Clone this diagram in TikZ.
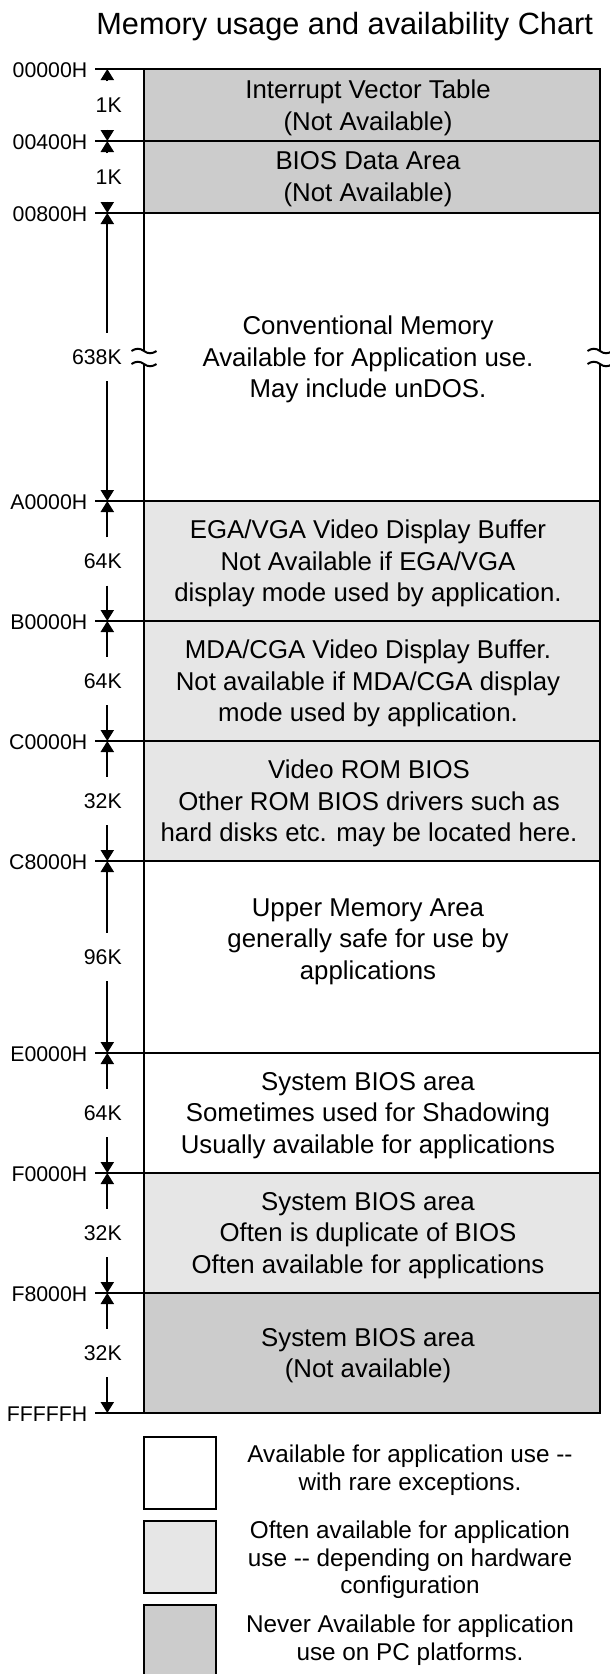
\documentclass[tikz,border=0pt]{standalone}
\usepackage{fontspec}
\setmainfont{Liberation Sans}
\usetikzlibrary{arrows.meta}
\definecolor{darkfill}{HTML}{CCCCCC}
\definecolor{lightfill}{HTML}{E6E6E6}
\tikzset{
  boxline/.style={line width=2.4pt, line cap=rect},
  vline/.style={line width=2.4pt},
  dimline/.style={line width=2pt, -{Triangle[length=11pt,width=13pt]}},
  breakmark/.style={line width=2pt},
  blocktext/.style={align=center, inner sep=0pt, font=\fontsize{25.8}{31.7}\selectfont},
  addrlab/.style={anchor=east, inner sep=0pt, font=\fontsize{21.3}{25}\selectfont},
  sizelab/.style={anchor=east, inner sep=0pt, minimum height=48pt, font=\fontsize{21.3}{25}\selectfont},
  legbox/.style={draw, line width=2.4pt, minimum width=72pt, minimum height=72pt, inner sep=0pt},
  legtext/.style={align=center, inner sep=0pt, font=\fontsize{24.3}{27.5}\selectfont},
  titletext/.style={anchor=base, inner sep=0pt, font=\fontsize{30.7}{36}\selectfont},
}
\begin{document}
\begin{tikzpicture}[x=1pt,y=-1pt]
\useasboundingbox (0,0) rectangle (610,1674);
\clip (0,0) rectangle (610,1674);
\fill[white] (0,0) rectangle (610,1674);

% title
\node[titletext] (title) at (344.7,34.5) {Memory usage and availability Chart};

% fills of the memory blocks
\fill[darkfill] (144,69) rectangle (600,213);
\fill[lightfill] (144,501) rectangle (600,861);
\fill[lightfill] (144,1173) rectangle (600,1293);
\fill[darkfill] (144,1293) rectangle (600,1413);

% boundary coordinates
\foreach \i/\y in {0/69,1/141,2/213,3/501,4/621,5/741,6/861,7/1053,8/1173,9/1293,10/1413} {
  \coordinate (L\i) at (96,\y);
  \coordinate (R\i) at (600,\y);
  \coordinate (A\i) at (107.3,\y);
}

% horizontal boundary lines
\foreach \i in {0,...,10} { \draw[boxline] (L\i) -- (R\i); }

% vertical box sides, broken in the conventional memory block
\draw[vline] (144,69) -- (144,351);
\draw[vline] (144,364) -- (144,1413);
\draw[vline] (600,69) -- (600,351);
\draw[vline] (600,364) -- (600,1413);
\foreach \bx in {144,600} {
  \foreach \by in {351,364} {
    \draw[breakmark] (\bx-12.5,\by) .. controls (\bx-8,\by-3) and (\bx-4,\by-3) .. (\bx,\by)
      .. controls (\bx+4,\by+3) and (\bx+8,\by+3) .. (\bx+12.5,\by);
  }
}

% block texts
\node[blocktext] (r1) at (368,107.5) {Interrupt Vector Table\\(Not Available)};
\node[blocktext] (r2) at (368,179) {BIOS Data Area\\(Not Available)};
\node[blocktext] (r3) at (368,359.5) {Conventional Memory\\Available for Application use.\\May include unDOS.};
\node[blocktext] (r4) at (368,563.5) {EGA/VGA Video Display Buffer\\Not Available if EGA/VGA\\display mode used by application.};
\node[blocktext] (r5) at (368,683.5) {MDA/CGA Video Display Buffer.\\Not available if MDA/CGA display\\mode used by application.};
\node[blocktext] (r6) at (369,803.5) {Video ROM BIOS\\Other ROM BIOS drivers such as\\hard disks etc. may be located here.};
\node[blocktext] (r7) at (368,941.5) {Upper Memory Area\\generally safe for use by\\applications};
\node[blocktext] (r8) at (368,1115.5) {System BIOS area\\Sometimes used for Shadowing\\Usually available for applications};
\node[blocktext] (r9) at (368,1235.5) {System BIOS area\\Often is duplicate of BIOS\\Often available for applications};
\node[blocktext] (r10) at (368,1355.5) {System BIOS area\\(Not available)};

% address labels
\node[addrlab] (a0) at (87.5,70) {00000H};
\node[addrlab] (a1) at (87.5,142) {00400H};
\node[addrlab] (a2) at (87.5,214) {00800H};
\node[addrlab] (a3) at (87.5,502) {A0000H};
\node[addrlab] (a4) at (87.5,622) {B0000H};
\node[addrlab] (a5) at (87.5,742) {C0000H};
\node[addrlab] (a6) at (87.5,862) {C8000H};
\node[addrlab] (a7) at (87.5,1054) {E0000H};
\node[addrlab] (a8) at (87.5,1174) {F0000H};
\node[addrlab] (a9) at (87.5,1294) {F8000H};
\node[addrlab] (a10) at (87.5,1414) {FFFFFH};

% size labels
\node[sizelab] (k1) at (122,105.5) {1K};
\node[sizelab] (k2) at (122,177.5) {1K};
\node[sizelab] (k3) at (122,357) {638K};
\node[sizelab] (k4) at (122,561.5) {64K};
\node[sizelab] (k5) at (122,681) {64K};
\node[sizelab] (k6) at (122,801) {32K};
\node[sizelab] (k7) at (122,957) {96K};
\node[sizelab] (k8) at (122,1113) {64K};
\node[sizelab] (k9) at (122,1233) {32K};
\node[sizelab] (k10) at (122,1353) {32K};

% dimension arrows
\foreach \k [evaluate=\k as \t using int(\k-1)] in {1,...,10} {
  \draw[dimline] (A\t |- k\k.north) -- (A\t);
  \draw[dimline] (A\k |- k\k.south) -- (A\k);
}

% legend
\node[legbox, fill=white] (lg1) at (180,1473) {};
\node[legbox, fill=lightfill] (lg2) at (180,1557) {};
\node[legbox, fill=darkfill] (lg3) at (180,1641) {};
\node[legtext] (lt1) at (410,1470) {Available for application use -\kern0pt-\\with rare exceptions.};
\node[legtext] (lt2) at (410,1560) {Often available for application\\use -\kern0pt- depending on hardware\\configuration};
\node[legtext] (lt3) at (410,1640) {Never Available for application\\use on PC platforms.};
\end{tikzpicture}
\end{document}
